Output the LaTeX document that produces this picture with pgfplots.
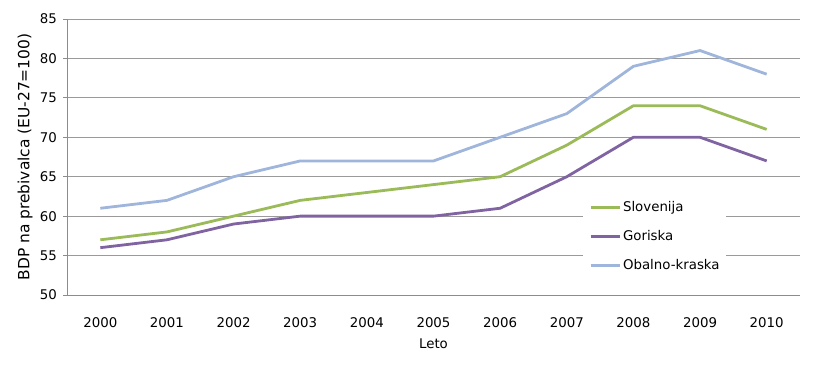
\documentclass[border=0pt]{standalone}
\usepackage{pgfplots}
\pgfplotsset{compat=1.18}
\usepackage{fontspec}
\setmainfont{DejaVu Sans}
\definecolor{cslo}{HTML}{9BBB59}
\definecolor{cgor}{HTML}{8064A2}
\definecolor{cobk}{HTML}{9FB5DB}
\definecolor{cgrid}{HTML}{9A9A9A}
\definecolor{caxis}{HTML}{8C8C8C}
\begin{document}
\begin{tikzpicture}
\useasboundingbox (0,0) rectangle (826bp,366bp);
\begin{axis}[
  at={(67bp,71bp)}, anchor=south west,
  scale only axis, width=733bp, height=276bp,
  xmin=1999.5, xmax=2010.5, ymin=50, ymax=85,
  xtick={2000,2001,2002,2003,2004,2005,2006,2007,2008,2009,2010},
  ytick={50,55,60,65,70,75,80,85},
  /pgf/number format/assume math mode=true,
  /pgf/number format/1000 sep={},
  axis x line*=bottom, axis y line*=left,
  axis line style={caxis, line width=0.8bp},
  x axis line style={-}, y axis line style={-},
  ymajorgrids, grid style={cgrid, line width=0.8bp},
  tick align=outside, major tick length=4bp,
  xtick style={draw=none}, ytick style={caxis, line width=0.8bp},
  ticklabel style={font=\fontsize{13.4}{15}\selectfont, text=black},
  xticklabel style={anchor=north, inner sep=0pt, yshift=-18bp},
  yticklabel style={anchor=east, inner sep=0pt, xshift=-6bp},
  xlabel={Leto},
  xlabel style={at={(axis description cs:0.5,-0.176)}, anchor=center, font=\fontsize{13.4}{15}\selectfont},
  ylabel={BDP na prebivalca (EU-27=100)},
  ylabel style={at={(axis description cs:-0.0573,0.5)}, anchor=center, font=\fontsize{15.5}{17}\selectfont},
  legend cell align=left,
  legend image code/.code={\draw[#1] (0bp,0bp) -- (29bp,0bp);},
  legend style={at={(rel axis cs:0.704,0.362)}, anchor=north west, draw=none, fill=white,
    inner sep=6bp, row sep=16bp, column sep=2bp,
    nodes={inner sep=0pt, text height=10bp, text depth=3bp},
    font=\fontsize{13.4}{15}\selectfont},
  every axis plot/.append style={line width=2.8bp},
]
\addplot[cslo] coordinates {(2000,57) (2001,58) (2002,60) (2003,62) (2004,63) (2005,64) (2006,65) (2007,69) (2008,74) (2009,74) (2010,71)};
\addlegendentry{Slovenija}
\addplot[cgor] coordinates {(2000,56) (2001,57) (2002,59) (2003,60) (2004,60) (2005,60) (2006,61) (2007,65) (2008,70) (2009,70) (2010,67)};
\addlegendentry{Goriska}
\addplot[cobk] coordinates {(2000,61) (2001,62) (2002,65) (2003,67) (2004,67) (2005,67) (2006,70) (2007,73) (2008,79) (2009,81) (2010,78)};
\addlegendentry{Obalno-kraska}
\end{axis}
\end{tikzpicture}
\end{document}
